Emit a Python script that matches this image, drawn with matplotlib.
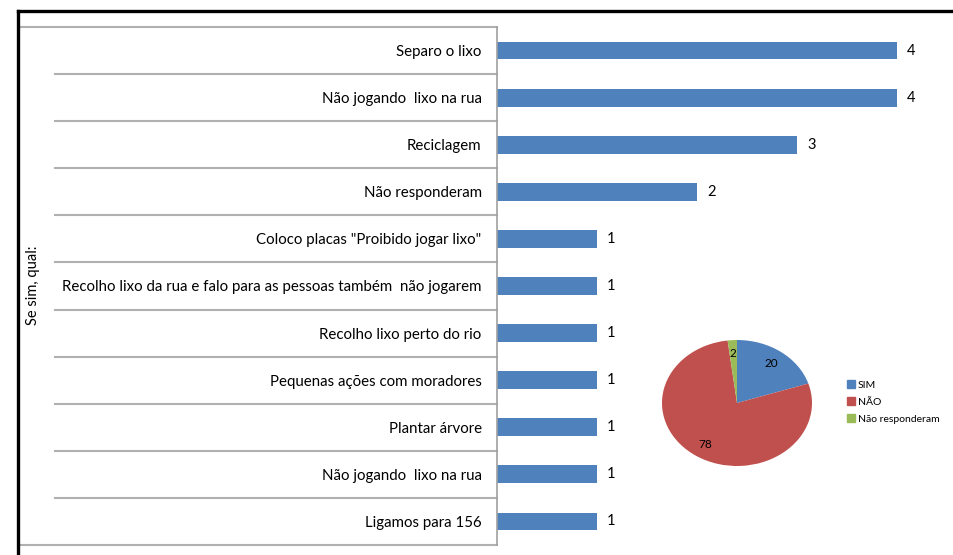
import matplotlib.pyplot as plt
from matplotlib.lines import Line2D
from matplotlib.patches import Patch

# dados do gráfico de barras (de cima para baixo)
categorias = ['Separo o lixo', 'Não jogando  lixo na rua', 'Reciclagem', 'Não responderam',
              'Coloco placas "Proibido jogar lixo"',
              'Recolho lixo da rua e falo para as pessoas também  não jogarem',
              'Recolho lixo perto do rio', 'Pequenas ações com moradores', 'Plantar árvore',
              'Não jogando  lixo na rua', 'Ligamos para 156']
valores = [4, 4, 3, 2, 1, 1, 1, 1, 1, 1, 1]

# dados do gráfico de pizza
pizza_rotulos = ['SIM', 'NÃO', 'Não responderam']
pizza_valores = [20, 78, 2]
pizza_cores = ['#4F81BD', '#C0504D', '#9BBB59']

plt.rcParams['font.family'] = ['Lato', 'DejaVu Sans']

W, H = 954, 555
fig = plt.figure(figsize=(W / 100, H / 100), dpi=100)

# moldura: só as bordas de cima e da esquerda aparecem
fig.add_artist(Line2D([18 / W, 1.0], [1 - 11 / H, 1 - 11 / H], transform=fig.transFigure,
                      color='black', linewidth=2.4))
fig.add_artist(Line2D([18 / W, 18 / W], [1 - 11 / H, 0.0], transform=fig.transFigure,
                      color='black', linewidth=2.4))

ax = fig.add_axes([497 / W, 1 - 545 / H, 450 / W, 518 / H])
y = list(range(len(categorias)))
ax.barh(y, valores, height=0.38, color='#4F81BD')
ax.set_ylim(len(categorias) - 0.5, -0.5)
ax.set_xlim(0, 4.5)
ax.set_yticks(y)
ax.set_yticklabels(categorias, fontsize=10.8)
ax.tick_params(axis='y', length=0, pad=11)
ax.set_xticks([])
for s in ['top', 'right', 'bottom']:
    ax.spines[s].set_visible(False)
ax.spines['left'].set_color('#A0A0A0')
ax.spines['left'].set_linewidth(1.2)

for i, v in enumerate(valores):
    ax.text(v + 0.1, i, str(v), va='center', ha='left', fontsize=10.5)

# linhas da tabela à esquerda
tr = ax.get_yaxis_transform()
for k in range(len(categorias) + 1):
    yy = k - 0.5
    x0 = (20 - 497) / 450 if k in (0, len(categorias)) else (55 - 497) / 450
    ax.plot([x0, 0], [yy, yy], transform=tr, color='#B0B0B0', linewidth=1.5, clip_on=False)

fig.text(33 / W, 1 - 285 / H, 'Se sim, qual:', rotation=90, ha='center', va='center', fontsize=10.5)

# pizza
axp = fig.add_axes([662 / W, 1 - 466 / H, 150 / W, 126 / H])
wedges, txts, autotxts = axp.pie(pizza_valores, colors=pizza_cores, startangle=90, counterclock=False,
                                 autopct=lambda p: '%d' % round(p), pctdistance=0.78,
                                 textprops={'fontsize': 8.5})
axp.set_aspect('auto')
axp.set_xlim(-1, 1)
axp.set_ylim(-1, 1)

handles = [Patch(color=c) for c in pizza_cores]
fig.legend(handles, pizza_rotulos, loc='center left', bbox_to_anchor=(838 / W, 1 - 402 / H),
           frameon=False, fontsize=7.5, handlelength=0.7, handleheight=0.7, handletextpad=0.3,
           labelspacing=0.75)

fig.savefig('out.png', dpi=100)
